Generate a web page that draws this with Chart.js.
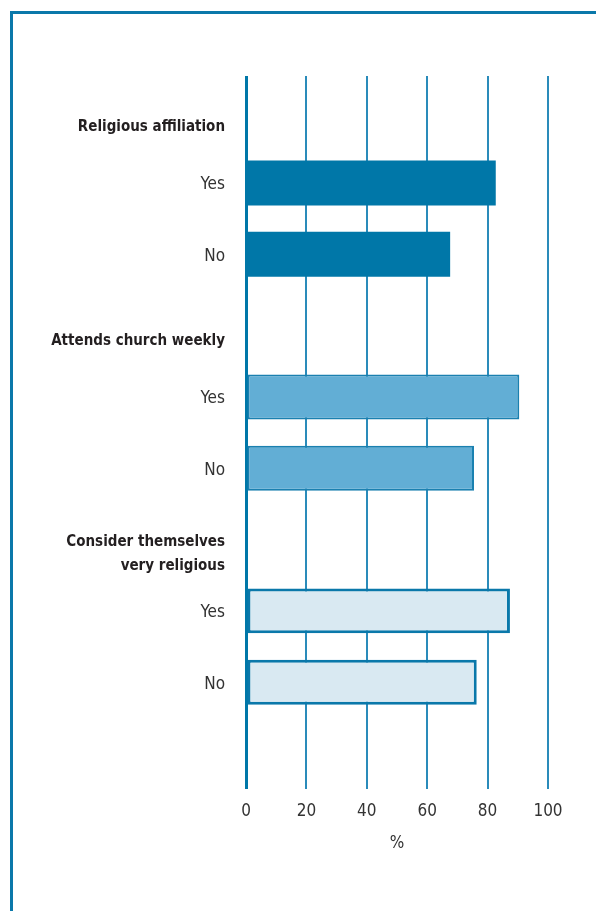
<!DOCTYPE html>
<html>
<head>
<meta charset="utf-8">
<script src="https://cdn.jsdelivr.net/npm/chart.js@4/dist/chart.umd.min.js"></script>
<style>
    html, body { margin: 0; padding: 0; background: #fff; }
    #frame {
        position: absolute; left: 10px; top: 11px; right: 0; bottom: 0;
        border-top: 3px solid #0a78aa; border-left: 3px solid #0a78aa;
    }
    #wrap { position: absolute; left: 0; top: 0; width: 596px; height: 911px; }
</style>
</head>
<body>
<div id="frame"></div>
<div id="wrap"><canvas id="religionChart"></canvas></div>
<script>
// Row labels, top to bottom (headers have no bar)
const rowLabels = [
    ['Religious affiliation'], ['Yes'], ['No'],
    ['Attends church weekly'], ['Yes'], ['No'],
    ['Consider themselves', 'very religious'], ['Yes'], ['No'],
    ['']
];
const headerRows = [0, 3, 6];

// Percent values (Yes, No)
const affiliation = [82.7, 67.6];
const attendsWeekly = [90.5, 75.5];
const veryReligious = [87.4, 76.4];

const xTicks = [0, 20, 40, 60, 80, 100];

const FONT = "'Liberation Sans Narrow', 'DejaVu Sans Condensed', 'Arial Narrow', sans-serif";

// one value per row, null where a header sits
const values = [null, ...affiliation, null, ...attendsWeekly, null, ...veryReligious, null];
const groupOf = [0, 0, 0, 1, 1, 1, 2, 2, 2, 2];

const fills = ['#0077a8', '#62aed5', '#d9e9f2'];
const borders = ['#0077a8', '#1a80b0', '#0a78aa'];
const borderWidths = [0, 2, 3];

const rowLabelPlugin = {
    id: 'rowLabels',
    afterDraw(chart) {
        const ctx = chart.ctx;
        const y = chart.scales.y;
        ctx.save();
        ctx.textAlign = 'right';
        ctx.textBaseline = 'middle';
        rowLabels.forEach((lines, i) => {
            const isHeader = headerRows.includes(i);
            ctx.font = (isHeader ? 'bold 15px ' : '17px ') + FONT;
            ctx.fillStyle = isHeader ? '#231f20' : '#333333';
            const lh = 24;
            const centre = y.getPixelForValue(i) + (isHeader ? 15 : 2);
            const top = centre - (lines.length - 1) * lh / 2;
            lines.forEach((line, k) => ctx.fillText(line, 225, top + k * lh));
        });
        ctx.restore();
    }
};

new Chart(document.getElementById('religionChart'), {
    type: 'bar',
    data: {
        labels: rowLabels.map(l => l.join(' ')),
        datasets: [{
            data: values,
            backgroundColor: c => fills[groupOf[c.dataIndex]],
            borderColor: c => borders[groupOf[c.dataIndex]],
            borderWidth: c => borderWidths[groupOf[c.dataIndex]],
            borderSkipped: false,
            barPercentage: 0.9,
            categoryPercentage: 0.7
        }]
    },
    options: {
        indexAxis: 'y',
        responsive: true,
        maintainAspectRatio: false,
        animation: false,
        layout: { padding: { left: 246, right: 48, top: 76, bottom: 53 } },
        plugins: {
            legend: { display: false },
            tooltip: { enabled: false }
        },
        scales: {
            y: { display: false },
            x: {
                min: 0,
                max: 100,
                afterBuildTicks: scale => { scale.ticks = xTicks.map(v => ({ value: v })); },
                border: { display: false },
                grid: {
                    drawTicks: false,
                    color: c => c.tick && c.tick.value === 0 ? '#0077a8' : '#2a8bba',
                    lineWidth: c => c.tick && c.tick.value === 0 ? 3 : 2
                },
                ticks: {
                    padding: 12,
                    color: '#333333',
                    font: { family: FONT, size: 17 }
                },
                title: {
                    display: true,
                    text: '%',
                    color: '#333333',
                    padding: { top: 0, bottom: 4 },
                    font: { family: FONT, size: 17 }
                }
            }
        }
    },
    plugins: [rowLabelPlugin]
});
</script>
</body>
</html>
